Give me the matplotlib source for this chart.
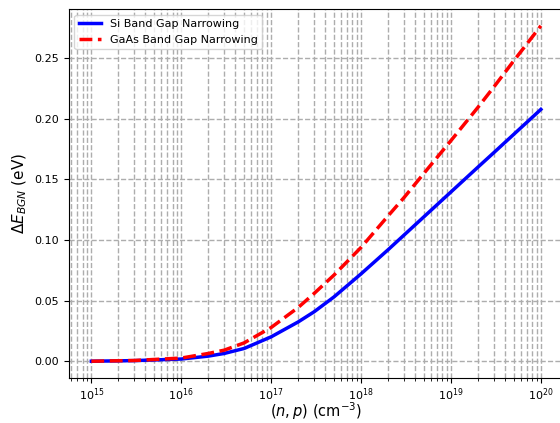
import numpy as np
import matplotlib.pyplot as plt

# doping concentration (cm^-3)
conc = [1e15, 3e15, 1e16, 2e16, 3e16, 5e16, 1e17, 2e17, 3e17, 5e17,
        1e18, 2e18, 3e18, 5e18, 1e19, 2e19, 3e19, 5e19, 1e20]

# band gap narrowing (eV)
dE_si = [0.0002, 0.0007, 0.0020, 0.0044, 0.0066, 0.0107, 0.0203, 0.0326, 0.0409, 0.0532,
         0.0722, 0.0921, 0.1041, 0.1192, 0.1397, 0.1602, 0.1721, 0.1872, 0.2077]
dE_gaas = [0.0002, 0.0008, 0.0028, 0.0066, 0.0093, 0.0153, 0.0280, 0.0445, 0.0560, 0.0712,
           0.0940, 0.1200, 0.1350, 0.1550, 0.1820, 0.2095, 0.2262, 0.2478, 0.2766]

fig = plt.figure(figsize=(5.6, 4.23), dpi=100)
ax = fig.add_axes([0.123, 0.1064, 0.883, 0.8723])

ax.semilogx(conc, dE_si, color='blue', linewidth=2.5, label='Si Band Gap Narrowing')
ax.semilogx(conc, dE_gaas, 'r--', linewidth=2.5, label='GaAs Band Gap Narrowing')

ax.grid(True, which='both', linestyle='--', color='#adadad', linewidth=1)
ax.set_axisbelow(True)

ax.set_xlabel(r'$(n,p)$ (cm$^{-3}$)', fontsize=10.5, labelpad=-2)
ax.set_ylabel(r'$\Delta E_{BGN}$ (eV)', fontsize=11)
ax.tick_params(labelsize=8)
ax.tick_params(axis='x', pad=2.5)
ax.legend(loc='upper left', fontsize=8)

fig.savefig('out.png', dpi=100)
